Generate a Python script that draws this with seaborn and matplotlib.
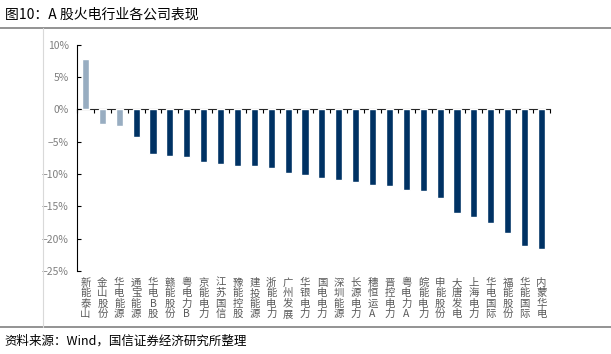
#!/usr/bin/env python3

import matplotlib
matplotlib.use("Agg")
import matplotlib.pyplot as plt
from matplotlib.lines import Line2D
from matplotlib.ticker import MultipleLocator, PercentFormatter
import pandas as pd
import seaborn as sns

FIGSIZE = (6.11, 3.54)

TITLE = "图10：A 股火电行业各公司表现"
SOURCE = "资料来源：Wind，国信证券经济研究所整理"

companies = [
    "新能泰山", "金山股份", "华电能源", "通宝能源", "华电B股", "赣能股份", "粤电力B",
    "京能电力", "江苏国信", "豫能控股", "建投能源", "浙能电力", "广州发展", "华银电力",
    "国电电力", "深圳能源", "长源电力", "穗恒运A", "晋控电力", "粤电力A", "皖能电力",
    "申能股份", "大唐发电", "上海电力", "华电国际", "福能股份", "华能国际", "内蒙华电",
]
changes = [
    7.8, -2.2, -2.6, -4.2, -6.9, -7.2, -7.3,
    -8.2, -8.4, -8.7, -8.8, -9.0, -9.8, -10.2,
    -10.6, -10.9, -11.3, -11.7, -11.8, -12.5, -12.6,
    -13.7, -16.1, -16.6, -17.6, -19.2, -21.1, -21.6,
]
# first three bars are drawn in a lighter shade
n_light = 3

LIGHT = "#98adc1"
DARK = "#003264"

sns.set_style("white")
plt.rcParams["font.family"] = ["Noto Sans CJK SC", "DejaVu Sans"]
plt.rcParams["axes.unicode_minus"] = True

df = pd.DataFrame({"company": companies, "change": changes})
palette = [LIGHT if i < n_light else DARK for i in range(len(companies))]

fig = plt.figure(figsize=FIGSIZE, dpi=100)
ax = fig.add_axes([0.126, 0.235, 0.774, 0.638])

sns.barplot(data=df, x="company", y="change", hue="company", palette=palette,
            width=0.42, legend=False, ax=ax, saturation=1)

ymin, ymax = -25, 10
ax.set_ylim(ymin, ymax)
ax.set_xlim(-0.5, len(companies) - 0.5)
ax.set(xlabel="", ylabel="")

# y axis
ax.yaxis.set_major_locator(MultipleLocator(5))
ax.yaxis.set_major_formatter(PercentFormatter(decimals=0))
ax.tick_params(axis="y", direction="in", length=3, width=0.8, color="black",
               labelsize=7.5, labelcolor="#7f7f7f", pad=6, left=True)
for s in ["top", "right", "bottom"]:
    ax.spines[s].set_visible(False)
ax.spines["left"].set_color("black")
ax.spines["left"].set_linewidth(0.8)

# category labels at the bottom, one character per line
ax.set_xticks(range(len(companies)))
ax.set_xticklabels(["\n".join(c) for c in companies], fontsize=7.5,
                   color="#595959", linespacing=1.05, va="top")
ax.tick_params(axis="x", length=0, pad=5)

# zero line with ticks between categories
frac = (0 - ymin) / (ymax - ymin)
zax = ax.secondary_xaxis(frac)
zax.spines["bottom"].set_color("#808080")
zax.spines["bottom"].set_linewidth(1.0)
bounds = [i + 0.5 for i in range(-1, len(companies))]
zax.set_xticks(bounds, labels=[""] * len(bounds))
zax.tick_params(axis="x", direction="in", length=3, width=0.8, color="black")

# frame lines
fig.add_artist(Line2D([0, 1], [0.921, 0.921], color="#808080", lw=1.2))
fig.add_artist(Line2D([0, 1], [0.076, 0.076], color="#808080", lw=1.2))
fig.add_artist(Line2D([0.070, 0.070], [0.076, 0.921], color="#d9d9d9", lw=0.8))

fig.text(0.008, 0.958, TITLE, fontsize=10, va="center", ha="left", color="black")
fig.text(0.008, 0.037, SOURCE, fontsize=9, va="center", ha="left", color="black")

fig.savefig("out.png", dpi=100, facecolor="white")
